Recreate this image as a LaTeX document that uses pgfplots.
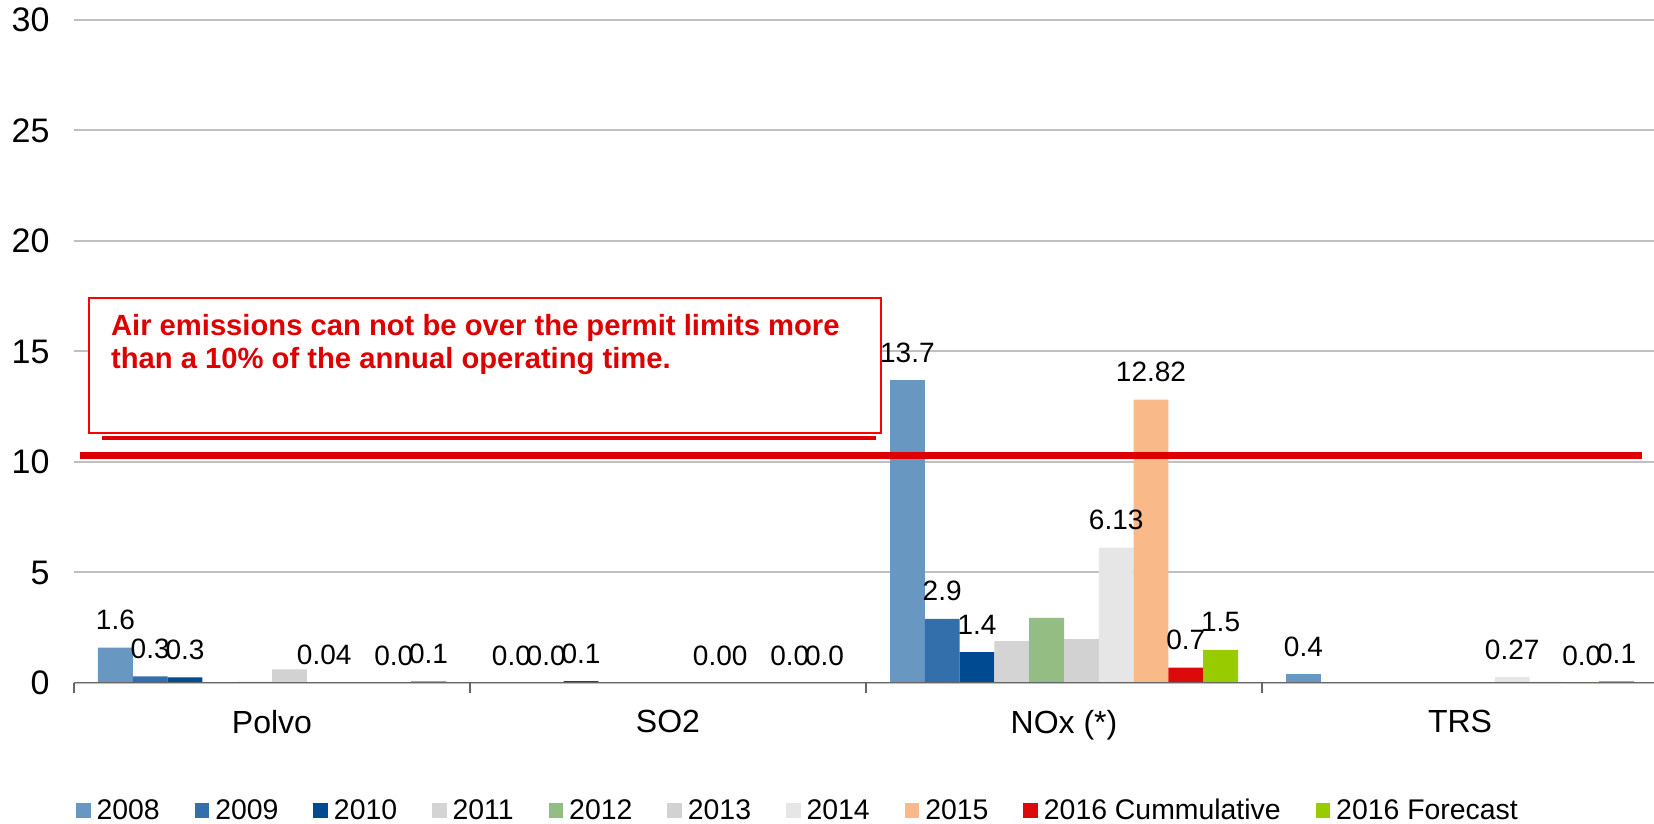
\documentclass[border=0pt]{standalone}
\usepackage{pgfplots}
\pgfplotsset{compat=1.18}
\usepackage{fontspec}
\setmainfont{Liberation Sans}

\definecolor{c08}{RGB}{104,151,193}
\definecolor{c09}{RGB}{51,111,170}
\definecolor{c10}{RGB}{0,74,145}
\definecolor{c11}{RGB}{212,212,212}
\definecolor{c12}{RGB}{147,189,130}
\definecolor{c13}{RGB}{210,210,210}
\definecolor{c14}{RGB}{230,230,230}
\definecolor{c15}{RGB}{249,185,136}
\definecolor{c16c}{RGB}{220,10,10}
\definecolor{c16f}{RGB}{153,204,0}
\definecolor{limitred}{RGB}{222,0,0}
\definecolor{gridgray}{RGB}{192,192,192}

\pgfplotsset{
  lbl/.style={nodes near coords, point meta=explicit symbolic,
    every node near coord/.append style={anchor=base, yshift=9pt, inner sep=0pt,
      font=\fontsize{14}{16}\selectfont, text=black}},
}

\begin{document}
\begin{tikzpicture}
\begin{axis}[
  scale only axis, width=792pt, height=331.5pt,
  xmin=-0.5, xmax=3.5, ymin=0, ymax=30,
  ybar=0pt, bar width=17.4pt,
  xtick={0,1,2,3}, xticklabels={Polvo,SO2,NOx (*),TRS},
  ytick={0,5,...,30},
  /pgf/number format/assume math mode=true,
  ymajorgrids, grid style={draw=gridgray, line width=1pt},
  axis line style={draw=none},
  major tick length=0pt,
  tick align=outside,
  xtick pos=bottom, ytick pos=left,
  extra x ticks={-0.5,0.5,1.5,2.5,3.5},
  extra x tick labels={},
  extra x tick style={major tick length=5pt, tick style={draw=black!60, line width=0.8pt}},
  xticklabel style={font=\fontsize{16}{18}\selectfont, yshift=-10.25pt},
  yticklabel style={font=\fontsize{17}{19}\selectfont, xshift=-8.7pt},
  legend style={at={(0.4564,-0.1931)}, anchor=center, draw=none, fill=none,
    legend columns=10, font=\fontsize{14.2}{16}\selectfont,
    nodes={inner sep=0pt},
    /tikz/every odd column/.append style={column sep=3pt},
    /tikz/every even column/.append style={column sep=17.5pt}},
  legend cell align=left,
  legend image code/.code={\fill[#1] (0pt,-3.6pt) rectangle (7.25pt,3.9pt);},
]
\addplot[lbl, fill=c08, draw=none] coordinates {(0,1.6)[1.6] (1,0)[0.0] (2,13.7)[13.7] (3,0.4)[0.4]};
\addplot[lbl, fill=c09, draw=none] coordinates {(0,0.3)[0.3] (1,0)[0.0] (2,2.9)[2.9] (3,0)[]};
\addplot[lbl, fill=c10, draw=none] coordinates {(0,0.25)[0.3] (1,0.08)[0.1] (2,1.4)[1.4] (3,0)[]};
\addplot[lbl, fill=c11, draw=none] coordinates {(0,0.03)[] (1,0.03)[] (2,1.9)[] (3,0.02)[]};
\addplot[lbl, fill=c12, draw=none] coordinates {(0,0.05)[] (1,0)[] (2,2.95)[] (3,0)[]};
\addplot[lbl, fill=c13, draw=none] coordinates {(0,0.62)[] (1,0)[] (2,1.98)[] (3,0.03)[]};
\addplot[lbl, fill=c14, draw=none] coordinates {(0,0.04)[0.04] (1,0)[0.00] (2,6.13)[6.13] (3,0.27)[0.27]};
\addplot[lbl, fill=c15, draw=none] coordinates {(0,0)[] (1,0)[] (2,12.82)[12.82] (3,0.05)[]};
\addplot[lbl, fill=c16c, draw=none] coordinates {(0,0)[0.0] (1,0)[0.0] (2,0.7)[0.7] (3,0)[0.0]};
\addplot[lbl, fill=c16f, draw=none] coordinates {(0,0.08)[0.1] (1,0)[0.0] (2,1.5)[1.5] (3,0.08)[0.1]};
\legend{2008,2009,2010,2011,2012,2013,2014,2015,2016 Cummulative,2016 Forecast}

% permit limit line
\addplot[forget plot, sharp plot, no markers, draw=limitred, line width=3.5pt] coordinates {(-0.485,10.3) (3.46,10.3)};

% x axis line
\draw[black!60, line width=0.8pt] (rel axis cs:0,0) -- (rel axis cs:1,0);

% note box
\draw[limitred, line width=2pt] (axis cs:-0.43,11.1) -- (axis cs:1.525,11.1);
\draw[red, line width=1pt, fill=white] (axis cs:-0.463,11.29) rectangle (axis cs:1.537,17.44);
\node[anchor=base west, inner sep=0pt, xshift=11pt, yshift=-19pt, text=limitred,
  font=\bfseries\fontsize{14.6}{16}\selectfont] at (axis cs:-0.463,17.44)
  {Air emissions can not be over the permit limits more};
\node[anchor=base west, inner sep=0pt, xshift=11pt, yshift=-35.5pt, text=limitred,
  font=\bfseries\fontsize{14.6}{16}\selectfont] at (axis cs:-0.463,17.44)
  {than a 10\% of the annual operating time.};

\coordinate (O) at (rel axis cs:0,0);
\end{axis}
\pgfresetboundingbox
\path[use as bounding box] (O) ++(-37pt,-70.5pt) rectangle ++(827pt,412pt);
\end{tikzpicture}
\end{document}
